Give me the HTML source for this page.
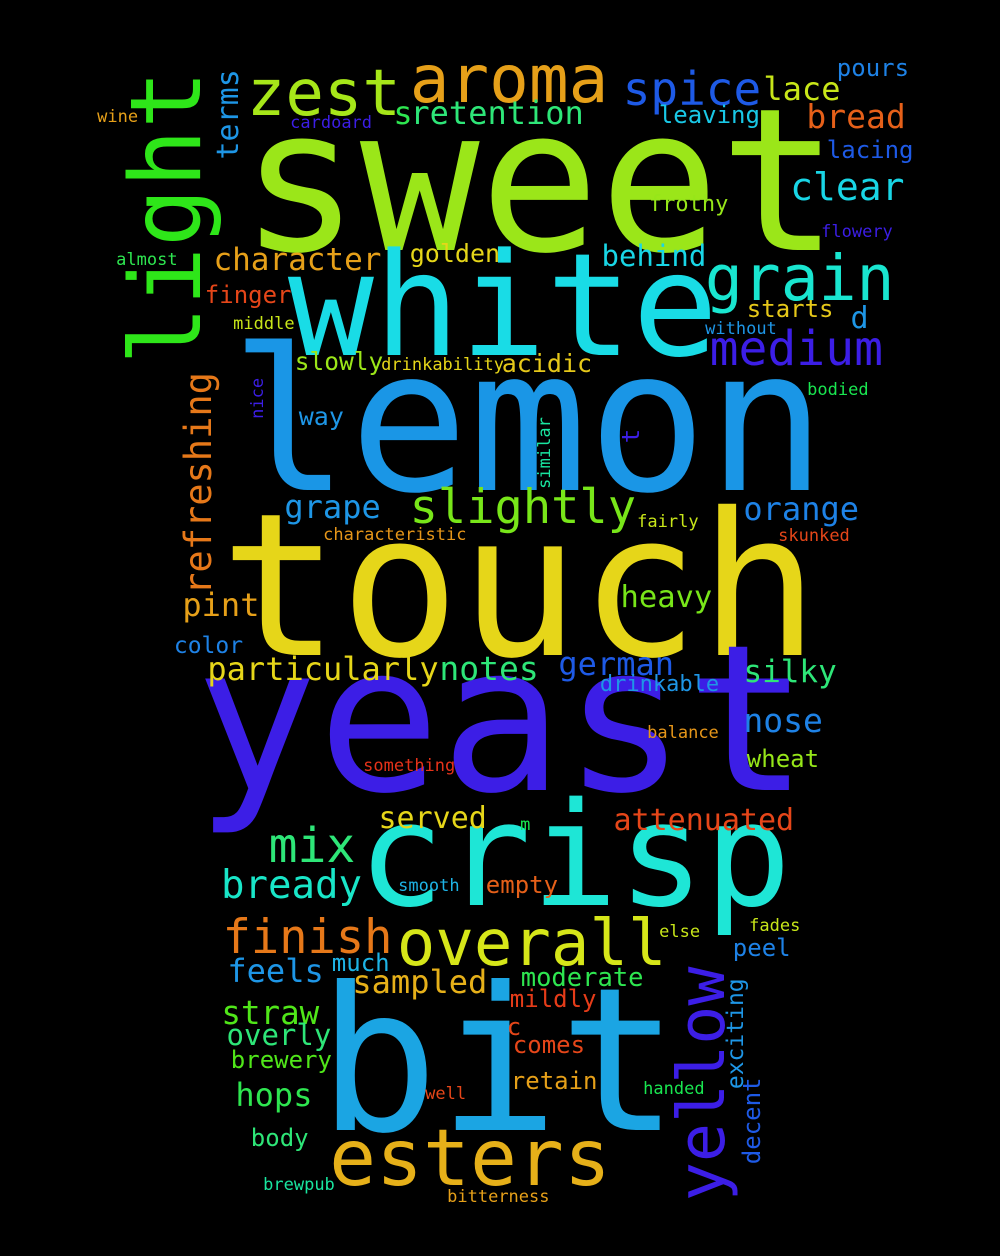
<!DOCTYPE html>
<html><head><meta charset="utf-8"><style>
html,body{margin:0;padding:0;background:#000;}
svg{display:block;}
text{font-family:"DejaVu Sans Mono","Liberation Mono",monospace;}
</style></head><body>
<svg id="cloud" width="1000" height="1256" viewBox="0 0 1000 1256" xmlns="http://www.w3.org/2000/svg">
<rect width="1000" height="1256" fill="#000"/>
</svg>
<script>
const words = ["sweet","white","lemon","touch","yeast","crisp","bit","esters","overall","finish","aroma","zest","spice","grain","medium","clear","lace","bread","pours","lacing","flowery","leaving","s","retention","cardoard","wine","frothy","behind","character","golden","finger","almost","middle","starts","d","without","slowly","drinkability","acidic","bodied","way","grape","slightly","orange","fairly","characteristic","skunked","pint","heavy","color","particularly","notes","german","silky","drinkable","nose","balance","something","wheat","served","attenuated","m","mix","bready","smooth","empty","fades","else","peel","feels","much","sampled","moderate","mildly","straw","overly","c","comes","brewery","hops","retain","well","handed","body","brewpub","bitterness","light","refreshing","terms","yellow","exciting","decent","nice","similar","t"];
const sizes = [199,143,198,199,204,144,200,78,64,47,66,64,46,63,48,38,32,33,24,24,17,24,32,32,17,17,22,29,31,25,24,17,17,24,30,17,24.5,17,25,17,25,32,47,32,17,17,17,32,30.5,23,32,33,32,31,22,33,17,17,24,30,30,17,48,39,17,24,17,17,24,32,24,32,25.5,24,32.5,29,24,24,24,32,24,17,17,24,17,17,98,37,30,65,23,24,17,17,24];
const colors = ["#9be619","#19dce6","#1a96e6","#e6d619","#3c1ee6","#1ee6d6","#1ba5e3","#e6b019","#d6e619","#e67819","#e6a019","#a6e619","#1e5ae6","#19e6d0","#3c1ee6","#19d6e6","#c8e619","#e66019","#1e82e6","#1e5ae6","#3c1ee6","#19c8e6","#2ee650","#2ee678","#3c1ee6","#e6a019","#96e619","#19d6e6","#e6a019","#e6d619","#e64619","#2ee650","#c8e619","#e6c819","#1e96e6","#1e96e6","#9be619","#e6d619","#e6c819","#19e650","#1e96e6","#1e96e6","#78e619","#1e82e6","#c8e619","#e69619","#e64619","#e6a019","#78e619","#1e82e6","#e6d619","#2ee678","#1e5ae6","#2ee678","#1e96e6","#1e82e6","#e69619","#e63219","#96e619","#e6d619","#e64619","#19e650","#2ee678","#19e6c8","#1eb4e6","#e66019","#c8e619","#c8e619","#1e82e6","#1e96e6","#1eb4e6","#e6b019","#2ee650","#e63c19","#50e619","#2ee678","#e64619","#e64619","#50e619","#2ee650","#e6a019","#e64619","#19e650","#2ee678","#19e6a0","#e6a019","#2ee619","#e67819","#1e96e6","#3c1ee6","#1e96e6","#1e5ae6","#3c1ee6","#19e6a0","#3c1ee6"];
const layout = [[250,250],[295,355],[240,490],[230,655],[205,790],[365,905],[328,1130],[333,1185],[400,965],[225,953],[413,102],[250,115],[625,105],[708,300],[712,365],[792,200],[765,100],[808,128],[838,76],[828,158],[822,237],[660,123],[395,124],[412,124],[291,128],[98,122],[650,211],[603,266],[215,270],[411,262],[206,303],[117,265],[234,329],[748,317],[852,328],[706,334],[296,370],[382,370],[503,372],[808,395],[300,425],[286,518],[412,523],[745,520],[638,527],[324,540],[779,541],[184,616],[622,607],[175,653],[209,680],[441,680],[560,675],[745,682],[601,691],[745,732],[648,738],[364,771],[748,767],[380,828],[615,830],[521,830],[271,862],[223,898],[399,891],[487,893],[750,931],[660,937],[734,956],[229,982],[333,971],[354,993],[522,986],[511,1007],[223,1024],[228,1045],[508,1035],[514,1053],[232,1068],[237,1106],[512,1089],[426,1099],[644,1094],[252,1146],[264,1190],[448,1202],[200,360],[211,593],[238,158],[724,1198],[743,1088],[760,1163],[263,418],[550,488],[639,442]];
const rotated = [false,false,false,false,false,false,false,false,false,false,false,false,false,false,false,false,false,false,false,false,false,false,false,false,false,false,false,false,false,false,false,false,false,false,false,false,false,false,false,false,false,false,false,false,false,false,false,false,false,false,false,false,false,false,false,false,false,false,false,false,false,false,false,false,false,false,false,false,false,false,false,false,false,false,false,false,false,false,false,false,false,false,false,false,false,false,true,true,true,true,true,true,true,true,true];

const svg = document.getElementById('cloud');
const NS = 'http://www.w3.org/2000/svg';
for (let i = 0; i < words.length; i++) {
  const t = document.createElementNS(NS, 'text');
  const sz = sizes[i];
  const [x, y] = layout[i];
  t.setAttribute('font-size', sz);
  t.setAttribute('fill', colors[i]);
  if (rotated[i]) {
    t.setAttribute('transform', 'translate(' + x + ',' + y + ') rotate(-90)');
    t.setAttribute('x', -0.05 * sz);
    t.setAttribute('y', 0);
  } else {
    t.setAttribute('x', x - 0.05 * sz);
    t.setAttribute('y', y);
  }
  t.textContent = words[i];
  
  
  svg.appendChild(t);
}
</script>
</body></html>
